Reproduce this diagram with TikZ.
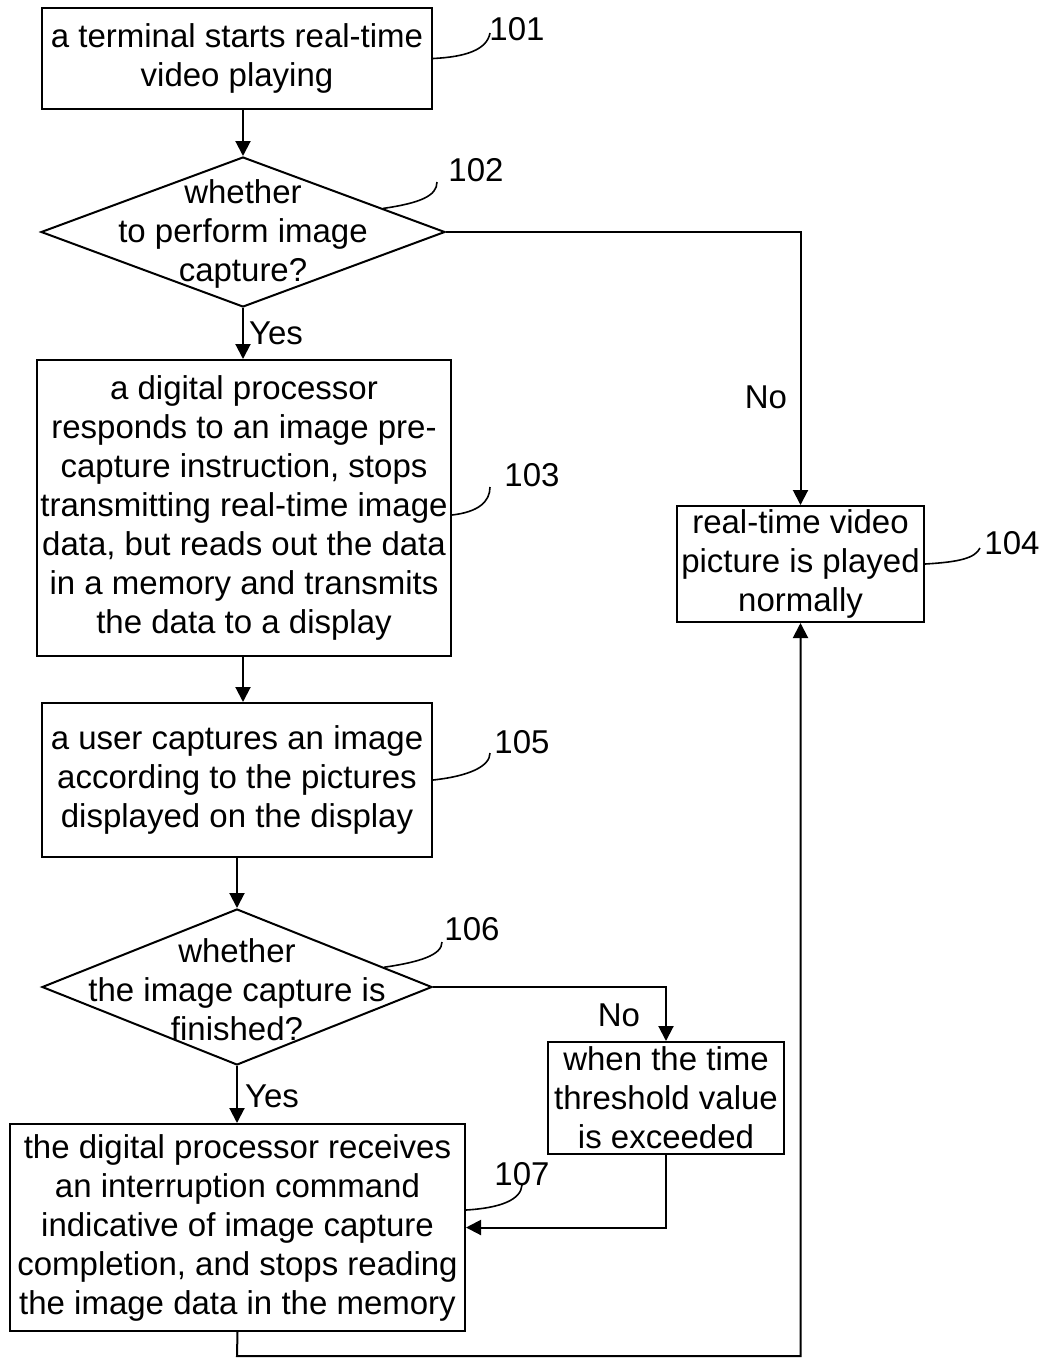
\documentclass[tikz,border=0pt]{standalone}
\usepackage{fontspec}
\setmainfont{Liberation Sans}
\usetikzlibrary{shapes.geometric,arrows.meta,calc}
\begin{document}
\begin{tikzpicture}[x=1pt,y=-1pt,
  box/.style={draw,line width=2pt,inner sep=0pt,align=center,font=\fontsize{33}{39}\selectfont},
  dia/.style={draw,diamond,line width=2pt,inner sep=0pt},
  txt/.style={inner sep=0pt,align=center,font=\fontsize{33}{39}\selectfont},
  flow/.style={line width=2pt,-{Triangle[width=15pt,length=15pt]}},
  lead/.style={line width=1.6pt}]
\useasboundingbox (0,0) rectangle (1047,1358);
% boxes
\node[box,minimum width=390pt,minimum height=101pt] (b101) at (237,58.5) {a terminal starts real-time\\video playing};
\node[dia,minimum width=404pt,minimum height=150pt] (d102) at (243,232) {};
\node[txt] (t102) at (243,234) {whether\\to perform image\\capture?};
\node[box,minimum width=414pt,minimum height=296pt] (b103) at (244,508) {a digital processor\\responds to an image pre-\\capture instruction, stops\\transmitting real-time image\\data, but reads out the data\\in a memory and transmits\\the data to a display};
\node[box,minimum width=247pt,minimum height=116pt] (b104) at (800.5,564) {real-time video\\picture is played\\normally};
\node[box,minimum width=390pt,minimum height=154pt] (b105) at (237,780) {a user captures an image\\according to the pictures\\displayed on the display};
\node[dia,minimum width=390pt,minimum height=156pt] (d106) at (237,987) {};
\node[txt] (t106) at (237,990) {whether\\the image capture is\\finished?};
\node[box,minimum width=236pt,minimum height=112pt] (bw) at (666,1098) {when the time\\threshold value\\is exceeded};
\node[box,minimum width=455pt,minimum height=207pt] (b107) at (237.5,1227.5) {the digital processor receives\\an interruption command\\indicative of image capture\\completion, and stops reading\\the image data in the memory};
% labels
\node[txt] (l101) at (517,29) {101};
\node[txt] (l102) at (476,170) {102};
\node[txt] (l103) at (532,475) {103};
\node[txt] (l104) at (1012,543) {104};
\node[txt] (l105) at (522,742) {105};
\node[txt] (l106) at (472,929) {106};
\node[txt] (l107) at (522,1174) {107};
\node[txt] (yes1) at (276,333) {Yes};
\node[txt] (yes2) at (272,1096) {Yes};
\node[txt] (no1) at (766,397) {No};
\node[txt] (no2) at (619,1015) {No};
% connectors
\coordinate (bot) at (237,1356);
\draw[flow] (b101.south -| d102.north) -- (d102.north);
\draw[flow] (d102.south) -- (d102.south |- b103.north);
\draw[flow] (d102.east) -| (b104.north);
\draw[flow] (b103.south -| d102.south) -- (d102.south |- b105.north);
\draw[flow] (b105.south) -- (d106.north);
\draw[flow] (d106.south) -- (b107.north -| d106.south);
\draw[flow] (d106.east) -| (bw.north);
\draw[flow] (bw.south) |- (b107.east);
\draw[flow] (b107.south) -- (bot) -| (b104.south);
% leaders
\draw[lead] (b101.east) .. controls (465,57) and (487,50) .. (490,33);
\draw[lead] ($(d102.north)!0.69!(d102.east)$) .. controls (420,203) and (437,196) .. (437,182);
\draw[lead] ($(b103.east)+(0,7)$) .. controls (478,512) and (490,502) .. (490,487);
\draw[lead] (b104.east) .. controls (960,562) and (975,558) .. (980,548);
\draw[lead] (b105.east) .. controls (470,776) and (490,766) .. (490,753);
\draw[lead] ($(d106.north)!0.75!(d106.east)$) .. controls (420,962) and (442,955) .. (442,942);
\draw[lead] ($(b107.east)+(0,-17.5)$) .. controls (500,1208) and (521,1200) .. (522,1185);
\end{tikzpicture}
\end{document}
